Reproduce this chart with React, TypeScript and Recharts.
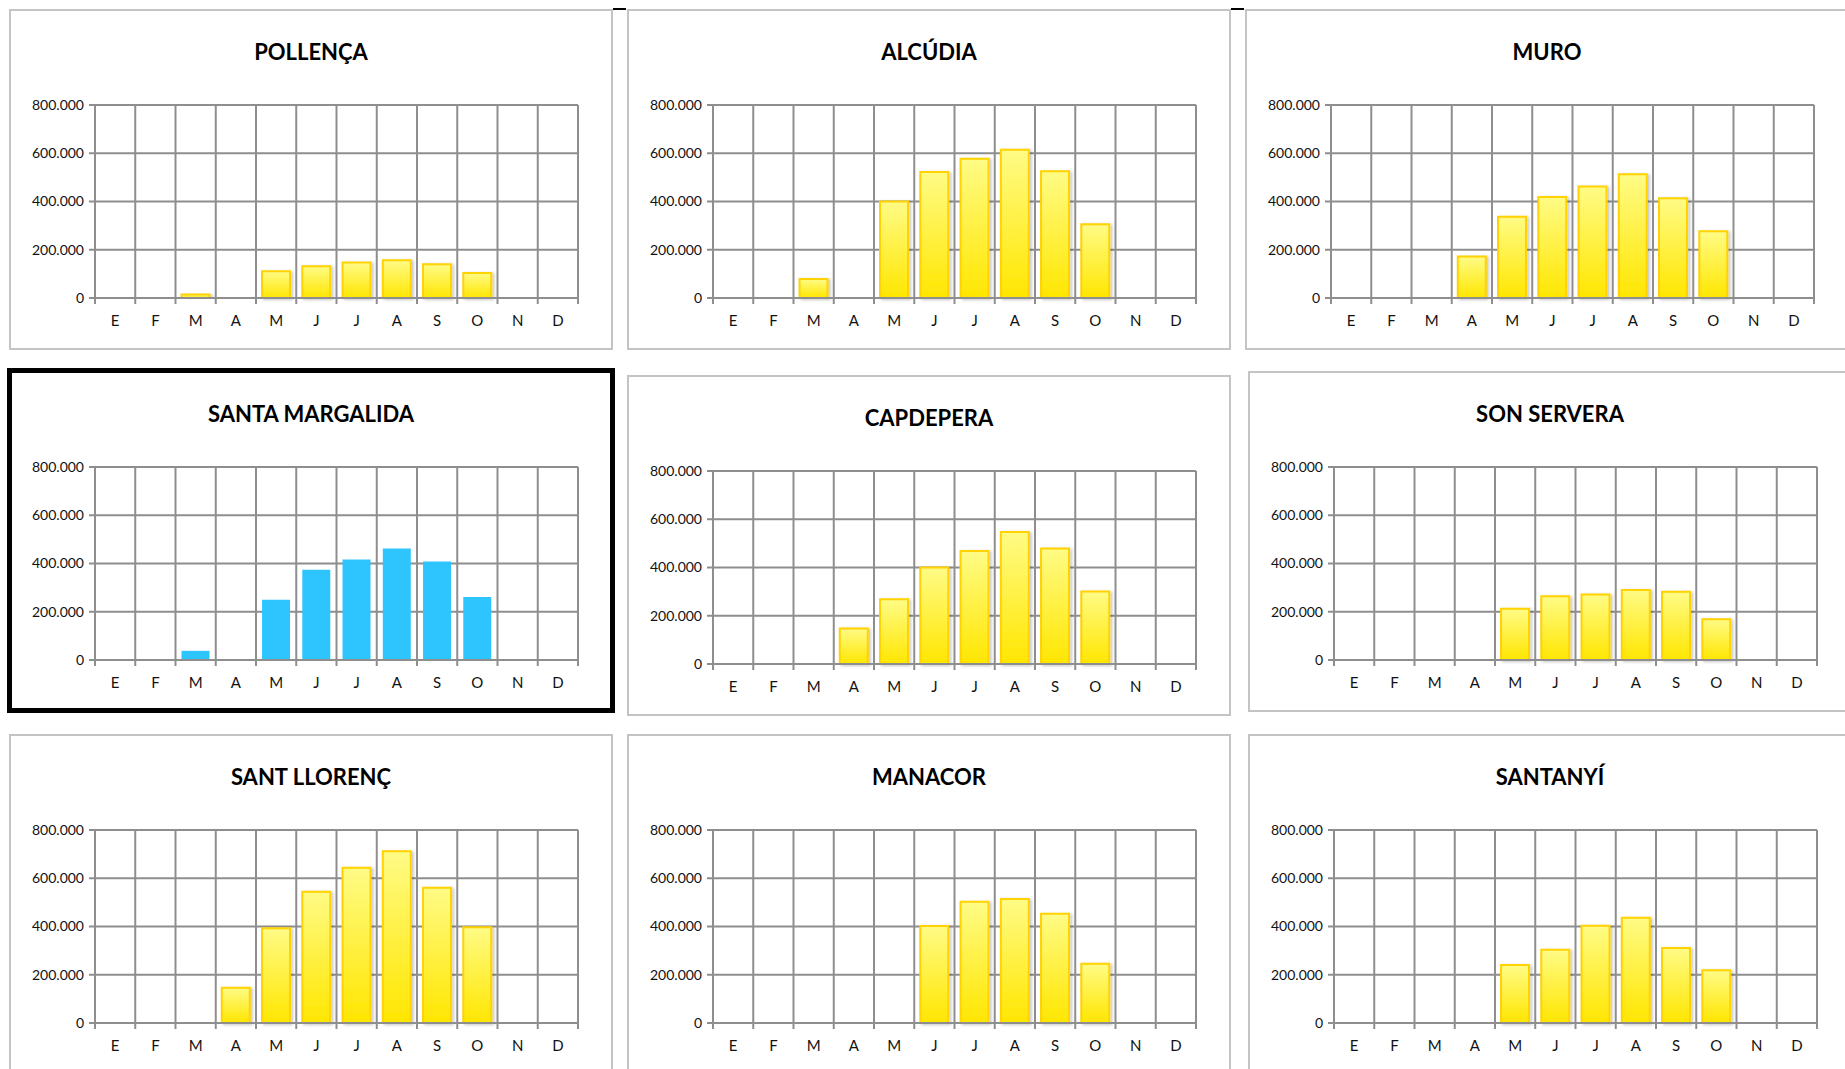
import { BarChart, Bar, XAxis, YAxis, CartesianGrid } from "recharts";

const MONTHS = ["E", "F", "M", "A", "M", "J", "J", "A", "S", "O", "N", "D"];
const Y_TICKS = [0, 200000, 400000, 600000, 800000];

const POLLENCA = [0, 0, 14000, 0, 111000, 132000, 147000, 156000, 140000, 104000, 0, 0];
const ALCUDIA = [0, 0, 79000, 0, 400000, 522000, 577000, 614000, 525000, 306000, 0, 0];
const MURO = [0, 0, 0, 172000, 337000, 419000, 462000, 513000, 413000, 277000, 0, 0];
const SANTA_MARGALIDA = [0, 0, 38000, 0, 250000, 374000, 417000, 462000, 408000, 261000, 0, 0];
const CAPDEPERA = [0, 0, 0, 147000, 268000, 400000, 468000, 547000, 479000, 301000, 0, 0];
const SON_SERVERA = [0, 0, 0, 0, 212000, 264000, 272000, 290000, 283000, 169000, 0, 0];
const SANT_LLORENC = [0, 0, 0, 146000, 393000, 544000, 644000, 712000, 561000, 397000, 0, 0];
const MANACOR = [0, 0, 0, 0, 0, 402000, 503000, 514000, 453000, 246000, 0, 0];
const SANTANYI = [0, 0, 0, 0, 240000, 304000, 403000, 436000, 311000, 219000, 0, 0];

// panel boxes on the page
const PANELS = [
  { id: "pol", title: "POLLENÇA", values: POLLENCA, left: 9, top: 9 },
  { id: "alc", title: "ALCÚDIA", values: ALCUDIA, left: 627, top: 9 },
  { id: "mur", title: "MURO", values: MURO, left: 1245, top: 9 },
  { id: "sma", title: "SANTA MARGALIDA", values: SANTA_MARGALIDA, left: 9, top: 371, highlight: true },
  { id: "cap", title: "CAPDEPERA", values: CAPDEPERA, left: 627, top: 375 },
  { id: "sse", title: "SON SERVERA", values: SON_SERVERA, left: 1248, top: 371 },
  { id: "sll", title: "SANT LLORENÇ", values: SANT_LLORENC, left: 9, top: 734 },
  { id: "man", title: "MANACOR", values: MANACOR, left: 627, top: 734 },
  { id: "snt", title: "SANTANYÍ", values: SANTANYI, left: 1248, top: 734 },
];

const W = 604;
const H = 341;
const PLOT_LEFT = 86;
const PLOT_W = 483;
const PLOT_TOP = 96;
const PLOT_H = 193;
const GRID = "#8e8e8e";
const FONT = "Lato, 'Open Sans', sans-serif";

const fmt = (v: number) => String(v).replace(/\B(?=(\d{3})+(?!\d))/g, ".");

function MonthTick(props: any) {
  const { x, y, payload, index } = props;
  const half = PLOT_W / 12 / 2;
  return (
    <g>
      <line x1={x - half} x2={x - half} y1={y} y2={y + 6} stroke={GRID} strokeWidth={2} />
      {index === 11 && <line x1={x + half} x2={x + half} y1={y} y2={y + 6} stroke={GRID} strokeWidth={2} />}
      <text x={x} y={y + 28} textAnchor="middle" fontSize={15} fill="#111" fontFamily={FONT}>
        {payload.value}
      </text>
    </g>
  );
}

function Panel({ p }: { p: (typeof PANELS)[number] }) {
  const rows = MONTHS.map((m, i) => ({ key: `${i}`, month: m, value: p.values[i] }));
  return (
    <div style={{ position: "absolute", left: p.left, top: p.top, width: W, height: H, background: "#fff" }}>
      <div
        style={{
          position: "absolute",
          left: 0,
          top: 0,
          right: 0,
          bottom: 0,
          boxShadow: "inset 0 0 0 2px #c4c4c4",
        }}
      />
      <div
        style={{
          position: "absolute",
          left: 0,
          width: W,
          top: 29,
          textAlign: "center",
          fontFamily: FONT,
          fontWeight: 700,
          fontSize: 22,
          color: "#000",
        }}
      >
        {p.title}
      </div>
      <div style={{ position: "absolute", left: 0, top: 0 }}>
        <BarChart
          width={W}
          height={H}
          data={rows}
          margin={{ top: PLOT_TOP, right: W - PLOT_LEFT - PLOT_W, left: 0, bottom: H - PLOT_TOP - PLOT_H - 30 }}
          barCategoryGap="15%"
        >
          <defs>
            <linearGradient id={`g-${p.id}`} x1="0" y1="0" x2="0" y2="1">
              <stop offset="0%" stopColor="#fffb86" />
              <stop offset="100%" stopColor="#ffe600" />
            </linearGradient>
            <filter id={`s-${p.id}`} x="-20%" y="-20%" width="150%" height="140%">
              <feDropShadow dx="2" dy="1" stdDeviation="1.5" floodColor="#000" floodOpacity="0.22" />
            </filter>
          </defs>
          <CartesianGrid
            stroke={GRID}
            strokeWidth={2}
            verticalCoordinatesGenerator={({ offset }: any) =>
              Array.from({ length: 13 }, (_, i) => offset.left + (i * offset.width) / 12)
            }
          />
          <XAxis
            dataKey="key"
            height={30}
            tickLine={false}
            tickSize={0}
            tickMargin={0}
            interval={0}
            axisLine={{ stroke: GRID, strokeWidth: 2 }}
            tick={(tp: any) => <MonthTick {...tp} payload={{ value: MONTHS[Number(tp.payload.value)] }} />}
          />
          <YAxis
            width={PLOT_LEFT}
            domain={[0, 800000]}
            ticks={Y_TICKS}
            interval={0}
            tickFormatter={fmt}
            axisLine={{ stroke: GRID, strokeWidth: 2 }}
            tickLine={{ stroke: GRID, strokeWidth: 2 }}
            tickSize={6}
            tickMargin={5}
            tick={{ fontSize: 14, fill: "#111", fontFamily: FONT }}
          />
          {p.highlight ? (
            <Bar dataKey="value" fill="#2ec5ff" isAnimationActive={false} />
          ) : (
            <Bar
              dataKey="value"
              fill={`url(#g-${p.id})`}
              stroke="#ffd200"
              strokeWidth={2}
              filter={`url(#s-${p.id})`}
              isAnimationActive={false}
            />
          )}
        </BarChart>
      </div>
      {p.highlight && (
        <div
          style={{
            position: "absolute",
            left: -2,
            top: -3,
            width: W + 4,
            height: H + 4,
            boxSizing: "border-box",
            border: "5px solid #000",
          }}
        />
      )}
    </div>
  );
}

export default function App() {
  return (
    <div
      style={{
        position: "absolute",
        left: 0,
        top: 0,
        width: 1845,
        height: 1069,
        overflow: "hidden",
        background: "#fff",
      }}
    >
      {PANELS.map((p) => (
        <Panel key={p.id} p={p} />
      ))}
      <div style={{ position: "absolute", left: 613, top: 8, width: 13, height: 2, background: "#000" }} />
      <div style={{ position: "absolute", left: 1231, top: 8, width: 13, height: 2, background: "#000" }} />
    </div>
  );
}
